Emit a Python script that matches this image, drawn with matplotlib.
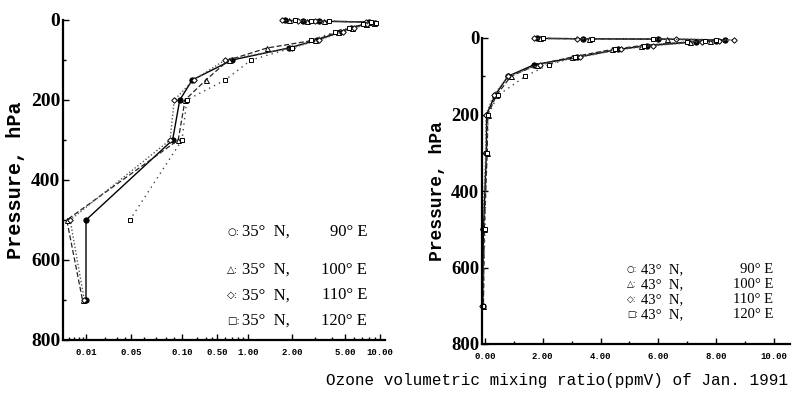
#!/usr/bin/env python3
"""Ozone mixing-ratio profiles, Jan. 1991, at 35N and 43N (two panels)."""

import matplotlib
matplotlib.use("Agg")

import matplotlib.pyplot as plt
import numpy as np

# pressure levels (hPa), shared by all profiles
levels = [1, 2, 3, 5, 7, 10, 20, 30, 50, 70, 100, 150, 200, 300, 500, 700]

# 35N profiles (ppmV), left panel
left_90e = [1.8, 2.4, 3.2, 8.0, 9.0, 7.4, 5.6, 4.6, 3.1, 1.9, 0.70, 0.16, 0.097, 0.088, 0.010, 0.010]
left_100e = [1.9, 2.6, 3.5, 8.2, 8.8, 7.6, 5.8, 4.4, 3.0, 1.35, 0.65, 0.30, 0.115, 0.095, 0.0056, 0.009]
left_110e = [1.7, 2.2, 3.0, 7.6, 8.6, 7.8, 6.0, 4.8, 3.2, 2.0, 0.60, 0.17, 0.090, 0.085, 0.0062, 0.0095]
left_120e = [2.1, 2.8, 3.8, 8.4, 9.2, 7.2, 5.4, 4.2, 2.8, 2.0, 1.05, 0.60, 0.125, 0.10, 0.048, np.nan]

# 43N profiles (ppmV), right panel
right_90e = [1.8, 3.4, 6.0, 8.3, 8.0, 7.3, 5.6, 4.6, 3.2, 1.7, 0.8, 0.35, 0.06, 0.05, -0.05, -0.08]
right_100e = [1.9, 3.6, 6.3, 8.0, 7.8, 7.1, 5.4, 4.4, 3.0, 1.8, 0.9, 0.40, 0.10, 0.08, -0.02, -0.05]
right_110e = [1.7, 3.2, 6.6, 8.6, 8.1, 7.5, 5.8, 4.7, 3.3, 1.9, 0.8, 0.30, 0.04, 0.03, -0.08, -0.10]
right_120e = [2.0, 3.7, 5.8, 8.0, 7.6, 7.0, 5.5, 4.5, 3.1, 2.2, 1.4, 0.45, 0.12, 0.06, 0.0, -0.06]

left_ticks = [0.01, 0.05, 0.10, 0.50, 1.00, 2.00, 5.00, 10.00]
left_ticklabels = ["0.01", "0.05", "0.10", "0.50", "1.00", "2.00", "5.00", "10.00"]
left_minor = [0.006, 0.007, 0.008, 0.009, 0.02, 0.03, 0.04, 0.06, 0.07, 0.08, 0.09,
              0.2, 0.3, 0.4, 0.6, 0.7, 0.8, 0.9, 3, 4, 6, 7, 8, 9]
right_ticks = [0, 2, 4, 6, 8, 10]
right_ticklabels = ["0.00", "2.00", "4.00", "6.00", "8.00", "10.00"]

legend_sym = ["○", "△", "◇", "□"]
legend_lon = ["90° E", "100° E", "110° E", "120° E"]

# the scanned left axis is an uneven log-like scale: knot values -> pixel column
KNOT_V = np.log10([0.005, 0.01, 0.05, 0.1, 0.5, 1.0, 2.0, 5.0, 10.0, 12.0])
KNOT_P = np.array([63, 86, 131, 182, 217, 248, 292, 345, 380, 392], dtype=float)


def fwd(v):
    v = np.clip(np.asarray(v, dtype=float), 1e-6, None)
    return np.interp(np.log10(v), KNOT_V, KNOT_P)


def inv(p):
    return 10 ** np.interp(np.asarray(p, dtype=float), KNOT_P, KNOT_V)


STYLES = [
    dict(ls="-", marker="o", mfc="black", ms=3.8, color="black", lw=1.0),
    dict(ls=(0, (4, 2)), marker="^", mfc="white", ms=3.6, color="#222222", lw=0.9),
    dict(ls=(0, (1, 1.5)), marker="D", mfc="white", ms=2.8, color="#555555", lw=1.0),
    dict(ls=(0, (1, 3)), marker="s", mfc="white", ms=3.4, color="#444444", lw=1.0),
]

SERIF = ["Liberation Serif", "DejaVu Serif"]
MONO = ["Liberation Mono", "DejaVu Sans Mono"]


def style_axes(ax, ysize):
    ax.set_ylim(800, 0)
    ax.set_yticks([0, 200, 400, 600, 800])
    ax.set_yticks([100, 300, 500, 700], minor=True)
    for s in ("top", "right"):
        ax.spines[s].set_visible(False)
    for s in ("left", "bottom"):
        ax.spines[s].set_linewidth(1.6)
    ax.tick_params(which="both", direction="in", width=1.0)
    ax.tick_params(which="major", length=4)
    ax.tick_params(which="minor", length=2.5)
    ax.tick_params(axis="y", pad=2)
    for t in ax.get_yticklabels():
        t.set_fontfamily(SERIF)
        t.set_fontweight("bold")
        t.set_fontsize(ysize)


def draw_profiles(ax, series):
    for vals, st in zip(series, STYLES):
        ax.plot(vals, levels, mec="black", mew=0.7, clip_on=False, **st)


def draw_legend(ax, lat, xs, xt, xr, ys, size):
    for sym, lon, y in zip(legend_sym, legend_lon, ys):
        ax.text(xs, y, sym + ":", transform=ax.transAxes, fontsize=size * 0.6,
                family=["DejaVu Sans"], va="center", ha="left")
        ax.text(xt, y, f"{lat}°  N,", transform=ax.transAxes, fontsize=size,
                family=SERIF, va="center", ha="left")
        ax.text(xr, y, lon, transform=ax.transAxes, fontsize=size,
                family=SERIF, va="center", ha="right")


def main():
    fig = plt.figure(figsize=(7.99, 3.96), dpi=100)

    # left panel, 35N
    axL = fig.add_axes([63 / 799, 1 - 340 / 396, 322 / 799, 320 / 396])
    axL.set_xscale("function", functions=(fwd, inv))
    axL.set_xlim(0.005, float(inv(385)))
    draw_profiles(axL, [left_90e, left_100e, left_110e, left_120e])
    axL.set_xticks(left_ticks)
    axL.set_xticklabels(left_ticklabels, family=MONO, fontweight="bold", fontsize=6.5)
    axL.set_xticks(left_minor, minor=True)
    axL.xaxis.set_minor_formatter(matplotlib.ticker.NullFormatter())
    style_axes(axL, 14)
    axL.tick_params(axis="x", pad=6)
    axL.set_ylabel("Pressure, hPa", family=MONO, fontweight="bold", fontsize=14.5, labelpad=4)
    draw_legend(axL, 35, 0.51, 0.555, 0.945, [0.3375, 0.219, 0.14, 0.06], 12)

    # right panel, 43N
    axR = fig.add_axes([482 / 799, 1 - 344 / 396, 308 / 799, 306 / 396])
    axR.set_xlim(-0.1, 10.55)
    draw_profiles(axR, [right_90e, right_100e, right_110e, right_120e])
    axR.set_xticks(right_ticks)
    axR.set_xticklabels(right_ticklabels, family=MONO, fontweight="bold", fontsize=6.5)
    axR.set_xticks([1, 3, 5, 7, 9], minor=True)
    style_axes(axR, 13.5)
    axR.tick_params(axis="x", pad=6)
    axR.set_ylabel("Pressure, hPa", family=MONO, fontweight="bold", fontsize=13, labelpad=4)
    draw_legend(axR, 43, 0.47, 0.515, 0.945, [0.242, 0.193, 0.145, 0.096], 10.5)

    fig.text(557 / 799, 1 - 381 / 396, "Ozone volumetric mixing ratio(ppmV) of Jan. 1991",
             family=MONO, fontsize=11.5, ha="center", va="center")

    fig.savefig("out.png", dpi=100, facecolor="white")
    plt.close(fig)


if __name__ == "__main__":
    main()
